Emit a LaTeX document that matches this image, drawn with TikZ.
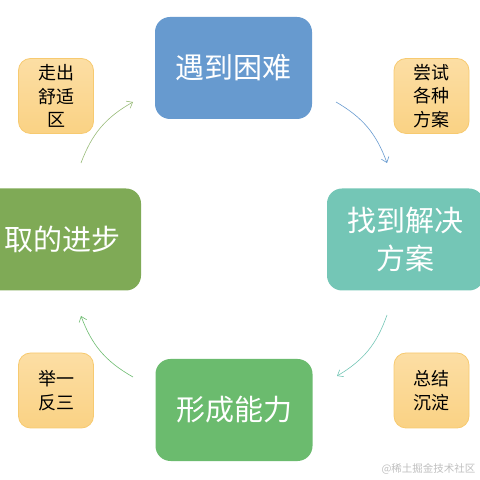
\documentclass[tikz,border=0pt]{standalone}
\usepackage{fontspec}
\usetikzlibrary{arrows.meta}
\newfontfamily\cjk{Noto Sans CJK SC}
\definecolor{troubleblue}{RGB}{103,154,207}
\definecolor{solveteal}{RGB}{116,198,182}
\definecolor{progressolive}{RGB}{127,170,86}
\definecolor{abilitygreen}{RGB}{107,187,110}
\definecolor{tiptop}{RGB}{252,222,164}
\definecolor{tipbottom}{RGB}{250,210,132}
\definecolor{tipline}{RGB}{247,202,112}
\tikzstyle{bigbox}=[rounded corners=15bp, minimum width=157bp, minimum height=102bp, inner sep=0pt, text=white, align=center, font=\cjk\fontsize{29bp}{38bp}\selectfont]
\tikzstyle{tipbox}=[draw=tipline, line width=0.8bp, rounded corners=12bp, top color=tiptop, bottom color=tipbottom, minimum size=75bp, inner sep=0pt, align=center, font=\cjk\fontsize{18bp}{23.5bp}\selectfont]
\tikzstyle{cycle}=[line width=0.6bp, -{Straight Barb[length=5bp,width=8bp]}, bend left=20]

\begin{document}
\begin{tikzpicture}[x=1bp, y=1bp]
		\useasboundingbox (0,0) rectangle (480,480);
		\clip (0,0) rectangle (480,480);
		
		\node(trouble) [bigbox, fill=troubleblue] at (233.5,412) {遇到困难};
		\node(solve) [bigbox, fill=solveteal] at (405.5,240.5) {找到解决\\方案};
		\node(ability) [bigbox, fill=abilitygreen] at (234,70) {形成能力};
		\node(progress) [bigbox, fill=progressolive] at (62.5,240.5) {取的进步};
		
		\node(comfort) [tipbox] at (56,384) {走出\\舒适\\区};
		\node(attempt) [tipbox] at (431.5,384) {尝试\\各种\\方案};
		\node(review) [tipbox] at (431.5,89.5) {总结\\沉淀};
		\node(analogy) [tipbox] at (56,89.5) {举一\\反三};
		
		\coordinate(s1) at (336,378);
		\coordinate(e1) at (387,317);
		\coordinate(s2) at (387,165);
		\coordinate(e2) at (337,104);
		\coordinate(s3) at (133,103);
		\coordinate(e3) at (81,164);
		\coordinate(s4) at (81,317);
		\coordinate(e4) at (133,378);
		
		\draw[cycle, troubleblue] (s1) to (e1);
		\draw[cycle, solveteal] (s2) to (e2);
		\draw[cycle, abilitygreen] (s3) to (e3);
		\draw[cycle, progressolive!80] (s4) to (e4);
		
		\node(mark) [text=black!25, font=\cjk\fontsize{10.5bp}{12bp}\selectfont, anchor=east] at (479,11) {@稀土掘金技术社区};
		
\end{tikzpicture}
\end{document}
